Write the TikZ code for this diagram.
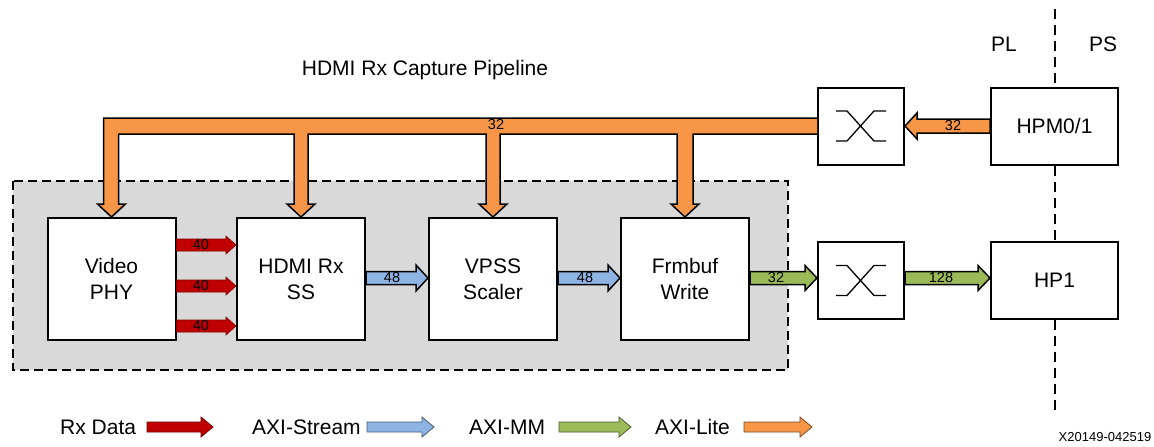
\documentclass[tikz,border=0pt]{standalone}
\usepackage{fontspec}
\setmainfont{Liberation Sans}
\usetikzlibrary{calc}
\definecolor{rxred}{HTML}{C00000}
\definecolor{axiblue}{HTML}{8EB4E3}
\definecolor{axigreen}{HTML}{9BBB59}
\definecolor{axiorange}{HTML}{F79646}
\definecolor{bggray}{HTML}{D9D9D9}
% right-pointing fat arrow: #1 start, #2 end (x only), #3 stem half, #4 head half, #5 head length, #6 style
\newcommand\rarrow[6]{\path[#6] let \p1=(#1), \p2=(#2) in
  (\x1,\y1+#3pt) -- (\x2-#5pt,\y1+#3pt) -- (\x2-#5pt,\y1+#4pt) -- (\x2,\y1)
  -- (\x2-#5pt,\y1-#4pt) -- (\x2-#5pt,\y1-#3pt) -- (\x1,\y1-#3pt) -- cycle;}
% left-pointing fat arrow
\newcommand\larrow[6]{\path[#6] let \p1=(#1), \p2=(#2) in
  (\x1,\y1+#3pt) -- (\x2+#5pt,\y1+#3pt) -- (\x2+#5pt,\y1+#4pt) -- (\x2,\y1)
  -- (\x2+#5pt,\y1-#4pt) -- (\x2+#5pt,\y1-#3pt) -- (\x1,\y1-#3pt) -- cycle;}
\newcommand\xbsym[1]{%
  \draw[symline] ([shift={(-25,-15)}]#1.center) -- ++(11,0) -- ++(27,30) -- ++(12,0);
  \draw[symline] ([shift={(-25,15)}]#1.center) -- ++(11,0) -- ++(27,-30) -- ++(12,0);}
\begin{document}
\begin{tikzpicture}[x=1pt,y=-1pt,
  every node/.style={font=\fontsize{21}{26}\selectfont},
  block/.style={draw=black,line width=2pt,fill=white,minimum width=128pt,minimum height=122pt,align=center,inner sep=0pt},
  xbar/.style={draw=black,line width=2pt,fill=white,minimum width=86pt,minimum height=77pt,inner sep=0pt},
  psblock/.style={draw=black,line width=2pt,fill=white,minimum width=127pt,minimum height=77pt,inner sep=0pt},
  symline/.style={line width=1.3pt,black},
  lbl/.style={font=\fontsize{14.5}{16}\selectfont,inner sep=0pt},
  redarr/.style={fill=rxred,draw=rxred!70!black,line width=0.6pt},
  bluearr/.style={fill=axiblue,draw=black,line width=1.5pt,line join=miter},
  greenarr/.style={fill=axigreen,draw=black,line width=1.5pt,line join=miter},
  orangearr/.style={fill=axiorange,draw=black,line width=1.5pt,line join=miter},
  legred/.style={fill=rxred,draw=rxred!60!black,line width=0.8pt},
  legblue/.style={fill=axiblue,draw=axiblue!50!black,line width=0.8pt},
  leggreen/.style={fill=axigreen,draw=axigreen!50!black,line width=0.8pt},
  legorange/.style={fill=axiorange,draw=axiorange!50!black,line width=0.8pt},
  divline/.style={line width=2pt,dash pattern=on 10pt off 6pt},
  legtext/.style={anchor=west,inner sep=0pt}
]
\useasboundingbox (0,0) rectangle (1154,447);

% gray dashed region
\draw[fill=bggray,line width=2pt,dash pattern=on 9pt off 5pt] (13,181) rectangle (788,370);

% title and side labels
\node[inner sep=0pt] (title) at (425,70) {HDMI Rx Capture Pipeline};
\node[inner sep=0pt] (pl) at (1004,44) {PL};
\node[inner sep=0pt] (ps) at (1103,44) {PS};
\node[inner sep=0pt,font=\fontsize{13}{14}\selectfont] (code) at (1105,437) {X20149-042519};

% blocks
\node[block] (vphy) at (111.5,279) {Video\\PHY};
\node[block] (hdmi) at (301,279) {HDMI Rx\\SS};
\node[block] (vpss) at (493,279) {VPSS\\Scaler};
\node[block] (frm) at (685,279) {Frmbuf\\Write};
\node[xbar] (xb1) at (861,126) {};
\node[xbar] (xb2) at (861,280.5) {};
\node[psblock] (hpm) at (1054.5,126) {HPM0/1};
\node[psblock] (hp1) at (1054.5,280.5) {HP1};
\xbsym{xb1}
\xbsym{xb2}

% PL/PS divider
\coordinate (divtop) at (1054.5,9);
\coordinate (divbot) at (1054.5,415);
\draw[divline] (divtop) -- (hpm.north);
\draw[divline] (hpm.south) -- (hp1.north);
\draw[divline] (hp1.south) -- (divbot);

% AXI-Lite bus
\path[orangearr] let \p1=(vphy.north), \p2=(hdmi.north), \p3=(vpss.north), \p4=(frm.north), \p5=(xb1.west) in
  (\x5,\y5+8pt) -- (\x1-8pt,\y5+8pt) -- (\x1-8pt,\y1+13pt) -- (\x1-14pt,\y1+13pt) -- (\x1,\y1)
  -- (\x1+14pt,\y1+13pt) -- (\x1+7pt,\y1+13pt) -- (\x1+7pt,\y5-8pt)
  -- (\x2-7pt,\y5-8pt) -- (\x2-7pt,\y2+13pt) -- (\x2-14pt,\y2+13pt) -- (\x2,\y2)
  -- (\x2+14pt,\y2+13pt) -- (\x2+7pt,\y2+13pt) -- (\x2+7pt,\y5-8pt)
  -- (\x3-7pt,\y5-8pt) -- (\x3-7pt,\y3+13pt) -- (\x3-14pt,\y3+13pt) -- (\x3,\y3)
  -- (\x3+14pt,\y3+13pt) -- (\x3+7pt,\y3+13pt) -- (\x3+7pt,\y5-8pt)
  -- (\x4-8pt,\y5-8pt) -- (\x4-8pt,\y4+13pt) -- (\x4-14pt,\y4+13pt) -- (\x4,\y4)
  -- (\x4+14pt,\y4+13pt) -- (\x4+8pt,\y4+13pt) -- (\x4+8pt,\y5-8pt)
  -- (\x5,\y5-8pt);
\node[lbl] (buslbl) at (496,125) {32};

% HPM -> crossbar 1
\larrow{hpm.west}{xb1.east}{7}{13}{12}{orangearr}
\node[lbl] at (953,126) {32};

% Rx data
\rarrow{[yshift=34pt]vphy.east}{hdmi.west}{6}{9}{10}{redarr}
\rarrow{[yshift=-7pt]vphy.east}{hdmi.west}{6}{9}{10}{redarr}
\rarrow{[yshift=-47pt]vphy.east}{hdmi.west}{6}{9}{10}{redarr}
\node[lbl] at (201,245) {40};
\node[lbl] at (201,286) {40};
\node[lbl] at (201,326) {40};

% AXI-Stream
\rarrow{[yshift=1pt]hdmi.east}{vpss.west}{6.5}{13}{12}{bluearr}
\rarrow{[yshift=1pt]vpss.east}{frm.west}{6.5}{13}{12}{bluearr}
\node[lbl] at (392,278) {48};
\node[lbl] at (585,278) {48};

% AXI-MM
\rarrow{[yshift=1pt]frm.east}{xb2.west}{6.5}{12.5}{12}{greenarr}
\rarrow{[yshift=2.5pt]xb2.east}{hp1.west}{6.5}{12.5}{12}{greenarr}
\node[lbl] at (776,278) {32};
\node[lbl] at (941,278) {128};

% legend
\node[legtext] (lrx) at (60,427) {Rx Data};
\node[legtext] (lst) at (252,427) {AXI-Stream};
\node[legtext] (lmm) at (469,427) {AXI-MM};
\node[legtext] (llt) at (655,427) {AXI-Lite};
\coordinate (lrxs) at (147,427); \coordinate (lrxe) at (213,427);
\coordinate (lsts) at (367,427); \coordinate (lste) at (434,427);
\coordinate (lmms) at (559,427); \coordinate (lmme) at (631,427);
\coordinate (llts) at (744,427); \coordinate (llte) at (812,427);
\rarrow{lrxs}{lrxe}{5}{10}{12}{legred}
\rarrow{lsts}{lste}{5}{10}{12}{legblue}
\rarrow{lmms}{lmme}{5}{10}{12}{leggreen}
\rarrow{llts}{llte}{5}{10}{12}{legorange}
\end{tikzpicture}
\end{document}
